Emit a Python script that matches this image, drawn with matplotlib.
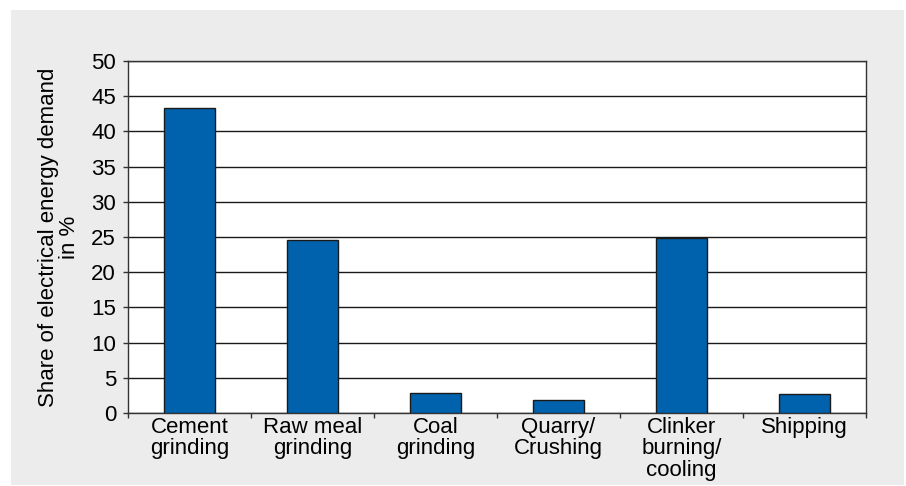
import matplotlib
matplotlib.use("Agg")
import matplotlib.pyplot as plt
from matplotlib.patches import Rectangle

categories = ["Cement\ngrinding", "Raw meal\ngrinding", "Coal\ngrinding",
              "Quarry/\nCrushing", "Clinker\nburning/\ncooling", "Shipping"]
values = [43.3, 24.6, 2.9, 1.85, 24.9, 2.65]
yticks = [0, 5, 10, 15, 20, 25, 30, 35, 40, 45, 50]

plt.rcParams['font.family'] = ['Liberation Sans', 'DejaVu Sans']

W, H = 906, 486
fig = plt.figure(figsize=(W / 100, H / 100), dpi=100)
fig.patch.set_facecolor('white')
bg = Rectangle((11 / W, 1 - 485 / H), (904 - 11) / W, (485 - 10) / H,
               transform=fig.transFigure, facecolor='#ececec',
               edgecolor='none', zorder=-10)
fig.add_artist(bg)

left, right, top, bottom = 128, 866, 61, 413
ax = fig.add_axes([left / W, 1 - bottom / H, (right - left) / W, (bottom - top) / H])
ax.set_zorder(1)
ax.set_facecolor('white')

x = list(range(len(categories)))
ax.bar(x, values, width=0.41, color='#0061ac', edgecolor='#1a1a1a', linewidth=1.0, zorder=3)

FS = 16
ax.set_xlim(-0.5, len(categories) - 0.5)
ax.set_ylim(0, 50)
ax.set_yticks(yticks)
ax.set_yticklabels([str(v) for v in yticks], fontsize=FS)
ax.yaxis.grid(True, color='#1a1a1a', linewidth=1.0, zorder=1)
ax.set_axisbelow(True)

ax.set_xticks(x)
ax.set_xticklabels(categories, fontsize=FS, linespacing=1.02)
ax.tick_params(axis='x', length=0, pad=3)
ax.set_xticks([i - 0.5 for i in range(len(categories) + 1)], minor=True)
ax.tick_params(axis='x', which='minor', length=3.6, width=1.0, color='#333333')
ax.tick_params(axis='y', length=3.6, width=1.0, color='#333333', pad=5)

for s in ax.spines.values():
    s.set_color('#333333')
    s.set_linewidth(1.0)

ax.set_ylabel("Share of electrical energy demand\nin %", fontsize=FS, linespacing=0.98, labelpad=8)

fig.savefig("out.png", dpi=100, facecolor=fig.get_facecolor())
